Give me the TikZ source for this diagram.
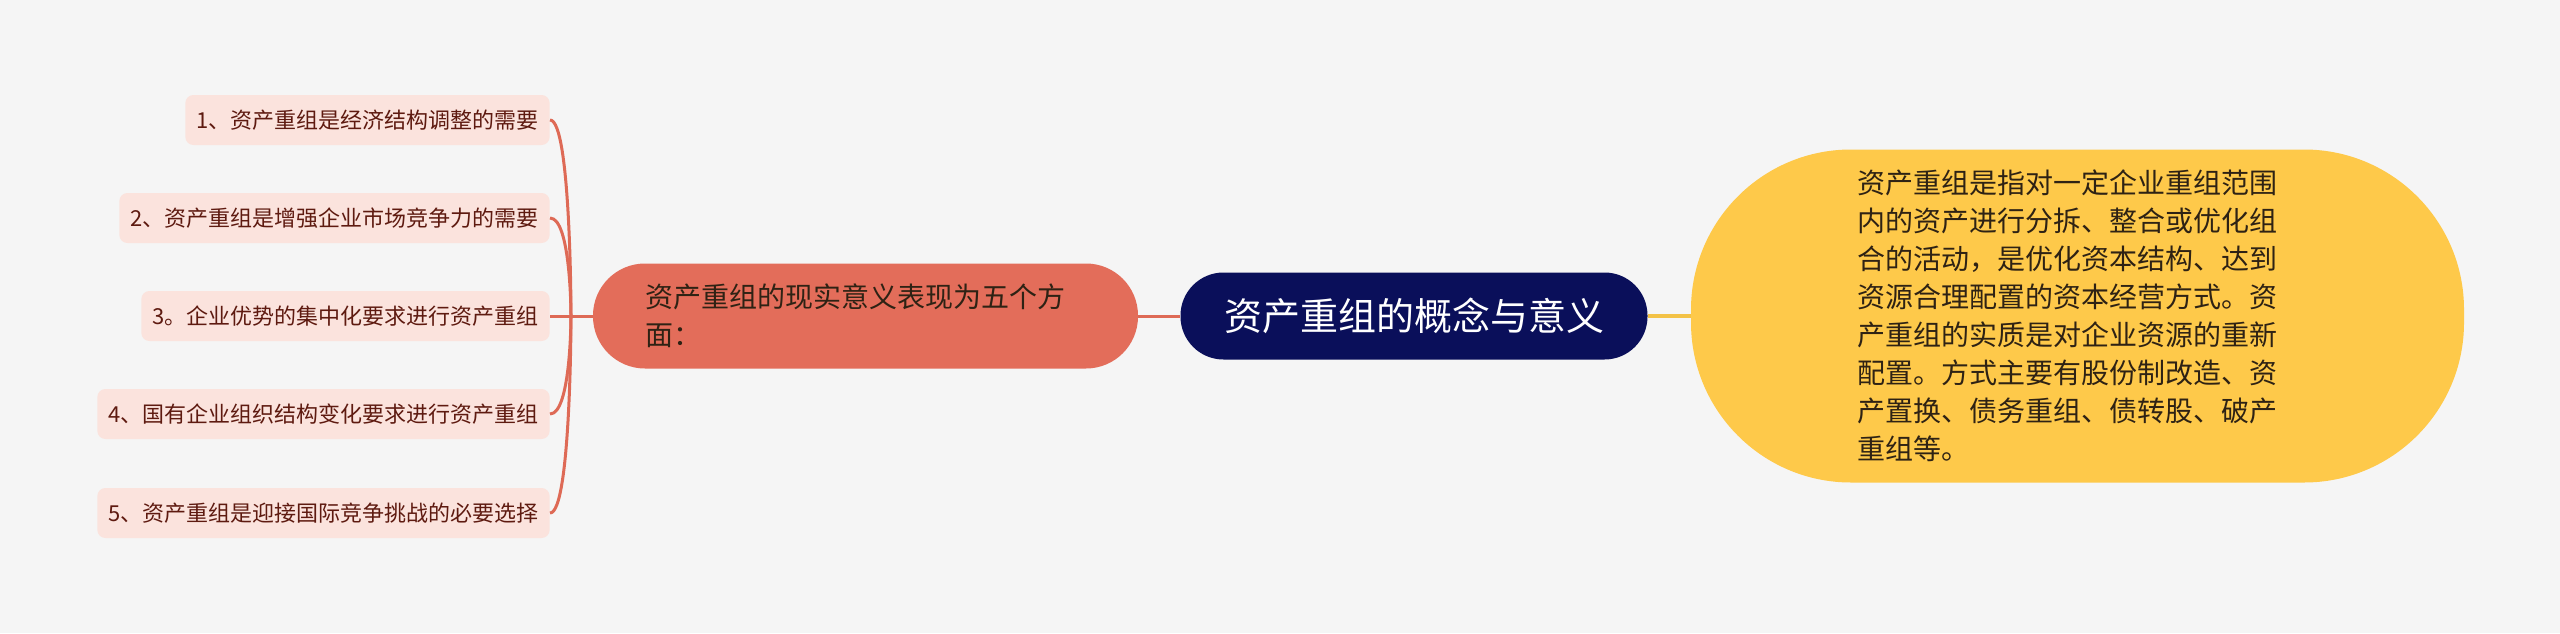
\documentclass[tikz,border=0pt]{standalone}
\usepackage{fontspec}
\setmainfont{Noto Sans CJK SC}
\usetikzlibrary{positioning,calc}

\definecolor{bgcol}{HTML}{F5F5F5}
\definecolor{leafcol}{HTML}{FBE3DD}
\definecolor{leaftxt}{HTML}{5E1A10}
\definecolor{redcol}{HTML}{E36D5A}
\definecolor{redline}{HTML}{DE6A56}
\definecolor{navycol}{HTML}{0A0F5A}
\definecolor{yelcol}{HTML}{FEC94A}
\definecolor{yelline}{HTML}{F3C246}
\definecolor{darktxt}{HTML}{2E2214}

\tikzset{
	leaf/.style={fill=leafcol, text=leaftxt, rounded corners=4pt, inner xsep=5.5pt,
		minimum height=25pt, anchor=east, font=\fontsize{11}{13}\selectfont},
	sub/.style={fill=redcol, text=darktxt, rounded corners=26pt, minimum width=272.5pt,
		minimum height=52.5pt, text width=220pt, align=left, font=\fontsize{14}{19}\selectfont},
	root/.style={fill=navycol, text=white, rounded corners=21.5pt, minimum width=233.5pt,
		minimum height=43.5pt, font=\fontsize{19}{22}\selectfont},
	desc/.style={fill=yelcol, text=darktxt, rounded corners=80pt, minimum width=386.5pt,
		minimum height=166.5pt, text width=220.5pt, align=left, font=\fontsize{14}{19}\selectfont},
	link/.style={draw=redline, line width=1.5pt},
	ylink/.style={draw=yelline, line width=1.8pt}
}

\begin{document}
\begin{tikzpicture}[x=0.5pt, y=-0.5pt]
	\fill[bgcol] (0,0) rectangle (2560,633);
	\useasboundingbox (0,0) rectangle (2560,633);

	% main nodes
	\node[root] (root) at (1414,316) {资产重组的概念与意义};
	\node[sub]  (mean) at (865.5,316) {资产重组的现实意义表现为五个方\\面：};
	\node[desc] (def)  at (2077.5,316) {资产重组是指对一定企业重组范围\\
		内的资产进行分拆、整合或优化组\\
		合的活动，是优化资本结构、达到\\
		资源合理配置的资本经营方式。资\\
		产重组的实质是对企业资源的重新\\
		配置。方式主要有股份制改造、资\\
		产置换、债务重组、债转股、破产\\
		重组等。};

	% five aspects
	\node[leaf] (l1) at (550,120) {1、资产重组是经济结构调整的需要};
	\node[leaf] (l2) at (550,218) {2、资产重组是增强企业市场竞争力的需要};
	\node[leaf] (l3) at (550,316) {3。企业优势的集中化要求进行资产重组};
	\node[leaf] (l4) at (550,414) {4、国有企业组织结构变化要求进行资产重组};
	\node[leaf] (l5) at (550,513) {5、资产重组是迎接国际竞争挑战的必要选择};
	\coordinate (hub) at (571,316);

	\draw[link]  (mean) -- (root);
	\draw[ylink] (root) -- (def);
	\draw[link]  (l3.east) -- (mean.west);
	\foreach \i in {1,2,4,5}
		\draw[link] (l\i.east) .. controls (l\i.east -| hub) and (hub) .. (hub);
\end{tikzpicture}
\end{document}
